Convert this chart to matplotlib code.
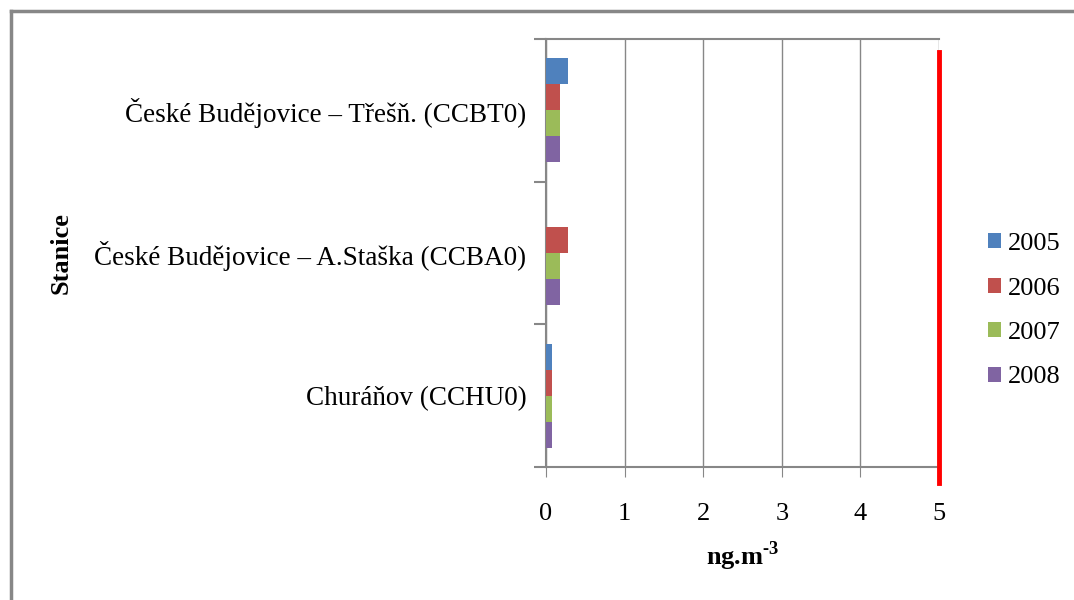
import matplotlib.pyplot as plt
import matplotlib.lines as mlines
import numpy as np

plt.rcParams['font.family'] = ['Liberation Serif', 'DejaVu Serif']
plt.rcParams['mathtext.fontset'] = 'custom'
plt.rcParams['mathtext.rm'] = 'Liberation Serif:bold'
plt.rcParams['mathtext.bf'] = 'Liberation Serif:bold'

stations = ["Churáňov (CCHU0)", "České Budějovice – A.Staška (CCBA0)", "České Budějovice – Třešň. (CCBT0)"]
years = ["2005", "2006", "2007", "2008"]
v2005 = [0.08, 0.0, 0.28]
v2006 = [0.08, 0.28, 0.18]
v2007 = [0.08, 0.18, 0.18]
v2008 = [0.08, 0.18, 0.18]
colors = ["#4F81BD", "#C0504D", "#9BBB59", "#8064A2"]
limit = 5

fig = plt.figure(figsize=(10.74, 6), dpi=100)
# outer chart frame
fig.add_artist(mlines.Line2D([11/1074, 11/1074], [0, 1 - 11/600], color="#878787", lw=2.5))
fig.add_artist(mlines.Line2D([11/1074, 1], [1 - 11/600, 1 - 11/600], color="#878787", lw=2.5))

ax = fig.add_axes([546/1074, 133/600, 393/1074, 428/600])

series = [v2005, v2006, v2007, v2008]
n = len(series)
bh = 1 / (n + 1.5)
y = np.arange(len(stations))
for i, (vals, c) in enumerate(zip(series, colors)):
    off = (n / 2 - i - 0.5) * bh
    ax.barh(y + off, vals, height=bh, color=c, label=years[i], zorder=3)

ax.set_xlim(0, 5)
ax.set_ylim(-0.5, len(stations) - 0.5)
ax.set_xticks(range(6))
ax.set_yticks(y)
ax.set_yticklabels(stations, fontsize=19.5)
ax.set_yticks(np.arange(-0.5, len(stations), 1), minor=True)
ax.tick_params(axis="y", which="major", length=0, pad=14)
ax.tick_params(axis="y", which="minor", length=9, color="#878787", width=1.5)
ax.tick_params(axis="x", length=7, color="#878787", labelsize=19, pad=19)
ax.grid(axis="x", color="#878787", lw=1, zorder=0)
for s in ax.spines.values():
    s.set_color("#878787")
    s.set_linewidth(1.5)
ax.spines["right"].set_visible(False)

ax.axvline(limit, ymin=-0.037, ymax=0.97, color="red", lw=3.5, clip_on=False, zorder=5)

ax.set_xlabel(r"ng.m$^{\text{-3}}$", fontsize=19, fontweight="bold", labelpad=10)
ax.set_ylabel("Stanice", fontsize=19, fontweight="bold")
ax.yaxis.set_label_coords(-(546 - 73) / 393, 0.5)

ax.legend(loc="center left", bbox_to_anchor=(1.064, 0.365), frameon=False, fontsize=19,
          handlelength=0.5, handleheight=0.5, handletextpad=0.25, labelspacing=0.85)

fig.savefig("out.png", dpi=100)
